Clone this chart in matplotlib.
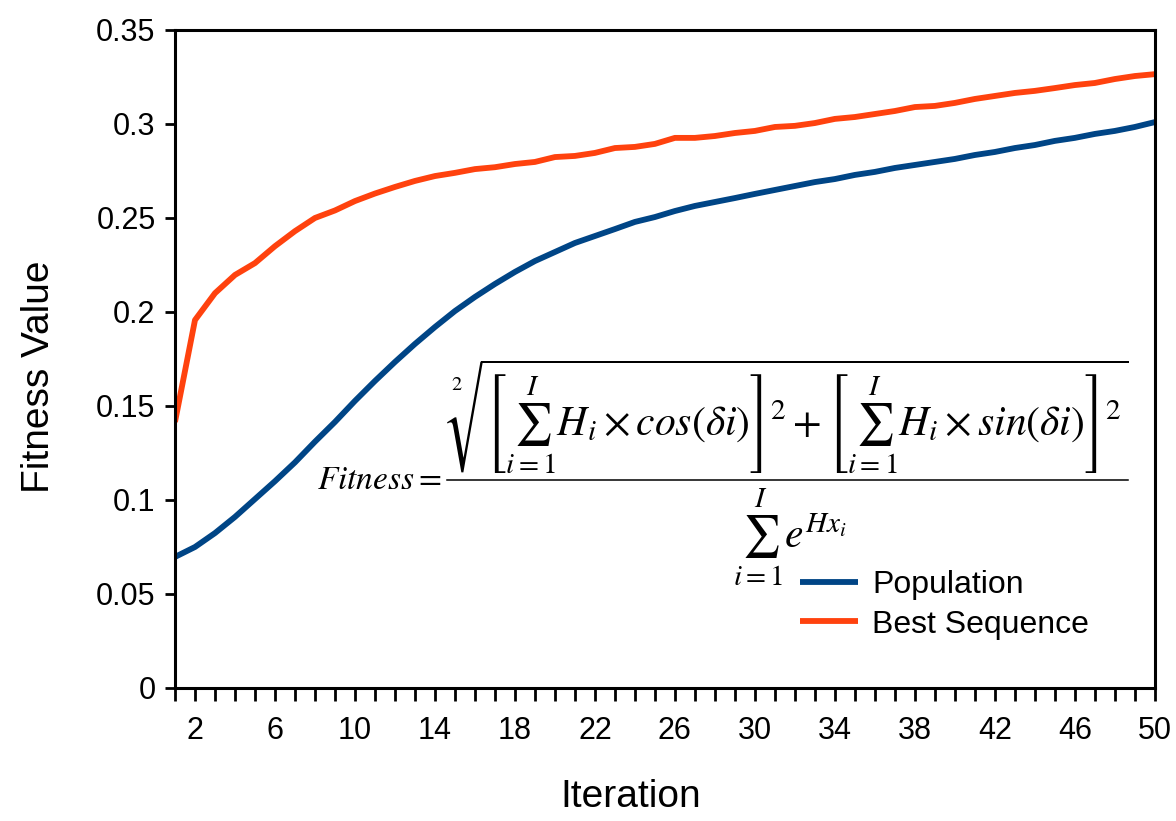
import matplotlib
matplotlib.use("Agg")
import matplotlib.pyplot as plt
from matplotlib.lines import Line2D
from matplotlib.ticker import MultipleLocator

plt.rcParams.update({"font.family": "Liberation Sans", "mathtext.fontset": "stix"})

BLUE = "#004586"
ORANGE = "#ff420e"

iterations = list(range(1, 51))
population = [0.0697, 0.0750, 0.0824, 0.0910, 0.1005, 0.1100, 0.1200, 0.1310, 0.1415, 0.1527,
              0.1633, 0.1734, 0.1830, 0.1920, 0.2005, 0.2080, 0.2149, 0.2213, 0.2271, 0.2319,
              0.2367, 0.2404, 0.2441, 0.2479, 0.2505, 0.2537, 0.2564, 0.2585, 0.2606, 0.2628,
              0.2649, 0.2670, 0.2691, 0.2707, 0.2729, 0.2745, 0.2766, 0.2782, 0.2798, 0.2814,
              0.2835, 0.2851, 0.2872, 0.2888, 0.2910, 0.2926, 0.2947, 0.2963, 0.2984, 0.3010]
best = [0.1415, 0.1957, 0.2100, 0.2197, 0.2260, 0.2350, 0.2430, 0.2500, 0.2540, 0.2590,
        0.2630, 0.2665, 0.2697, 0.2723, 0.2740, 0.2760, 0.2770, 0.2787, 0.2798, 0.2824,
        0.2830, 0.2846, 0.2872, 0.2878, 0.2894, 0.2926, 0.2926, 0.2936, 0.2952, 0.2963,
        0.2984, 0.2990, 0.3005, 0.3027, 0.3037, 0.3053, 0.3069, 0.3090, 0.3096, 0.3112,
        0.3133, 0.3149, 0.3165, 0.3176, 0.3191, 0.3207, 0.3218, 0.3239, 0.3255, 0.3265]
x_labels = list(range(2, 51, 4))
y_ticks = [0, 0.05, 0.1, 0.15, 0.2, 0.25, 0.3, 0.35]
y_labels = ["0", "0.05", "0.1", "0.15", "0.2", "0.25", "0.3", "0.35"]

fig = plt.figure(figsize=(11.76, 8.21), dpi=100)
ax = fig.add_axes([0.1488, 0.162, 0.8332, 0.8015])

ax.plot(iterations, population, color=BLUE, lw=4.2, label="Population", solid_capstyle="butt")
ax.plot(iterations, best, color=ORANGE, lw=4.2, label="Best Sequence", solid_capstyle="butt")

ax.set_xlim(1, 50)
ax.set_ylim(0, 0.35)
ax.set_xticks(x_labels)
ax.xaxis.set_minor_locator(MultipleLocator(1))
ax.set_yticks(y_ticks, y_labels)
for s in ax.spines.values():
    s.set_linewidth(2.2)
ax.tick_params(axis="y", length=7, width=2, labelsize=22, pad=7)
ax.tick_params(axis="x", which="both", length=9, width=2, labelsize=22, pad=11)

ax.set_xlabel("Iteration", fontsize=28, labelpad=24, x=0.465)
ax.set_ylabel("Fitness Value", fontsize=28, labelpad=28, y=0.473)

# formula, drawn in pieces: small left-hand side, numerator, bar, denominator
ax.text(0.272, 0.316, r"$Fitness=$", transform=ax.transAxes, ha="right", va="center",
        fontsize=24)
numerator = (r"$\sqrt[2]{\left[\sum_{i=1}^{I}H_i\times cos(\delta i)\right]^2"
             r"+\left[\sum_{i=1}^{I}H_i\times sin(\delta i)\right]^2}$")
ax.text(0.6245, 0.322, numerator, transform=ax.transAxes, ha="center", va="bottom",
        fontsize=30)
ax.add_line(Line2D([0.2776, 0.9724], [0.316, 0.316], transform=ax.transAxes,
                   color="black", lw=1.1))
ax.text(0.6276, 0.307, r"$\sum_{i=1}^{I}e^{Hx_i}$", transform=ax.transAxes,
        ha="center", va="top", fontsize=30)

ax.legend(loc="lower right", bbox_to_anchor=(0.962, 0.03), frameon=False, fontsize=23,
          handlelength=1.8, handletextpad=0.45, labelspacing=0.3)

fig.savefig("out.png", dpi=100, facecolor="white")
